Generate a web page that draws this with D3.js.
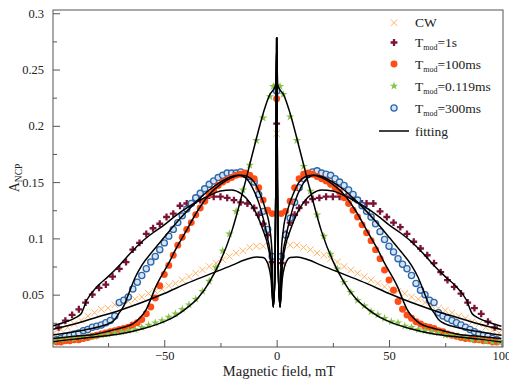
<!DOCTYPE html>
<html>
<head>
<meta charset="utf-8">
<script src="https://cdn.jsdelivr.net/npm/d3@7"></script>
<style>
  body { margin: 0; background: #fff; }
  svg text { font-family: "Liberation Serif", "Times New Roman", serif; fill: #222; }
</style>
</head>
<body>
<div id="chart"><svg width="509" height="380"></svg></div>
<script>
// ---- data: [field (mT), A_NCP] ----
const cwPoints = [[-99,0.016],[-96,0.019],[-93,0.021],[-90,0.024],[-87,0.027],[-84,0.031],[-81,0.034],[-78,0.037],[-75,0.038],[-72,0.041],[-69,0.042],[-66,0.044],[-63,0.046],[-60,0.048],[-57,0.051],[-54,0.053],[-51,0.055],[-48,0.058],[-45,0.060],[-42,0.063],[-39,0.066],[-36,0.069],[-33,0.072],[-30,0.075],[-27,0.078],[-24,0.081],[-21,0.084],[-18,0.087],[-15,0.089],[-12,0.092],[-9,0.093],[-6,0.093],[-3,0.077],[0,0.193],
  [3,0.078],[6,0.094],[9,0.094],[12,0.092],[15,0.090],[18,0.087],[21,0.085],[24,0.082],[27,0.079],[30,0.075],[33,0.072],[36,0.069],[39,0.066],[42,0.063],[45,0.060],[48,0.057],[51,0.055],[54,0.053],[57,0.051],[60,0.048],[63,0.046],[66,0.043],[69,0.040],[72,0.038],[75,0.036],[78,0.034],[81,0.031],[84,0.029],[87,0.026],[90,0.024],[93,0.021],[96,0.018],[99,0.016]];

const mod1sPoints = [[-97,0.021],[-94,0.027],[-91,0.032],[-88,0.037],[-85,0.043],[-82,0.050],[-79,0.056],[-76,0.059],[-73,0.066],[-70,0.073],[-67,0.079],[-64,0.090],[-61,0.096],[-58,0.104],[-55,0.109],[-52,0.113],[-49,0.119],[-46,0.122],[-43,0.129],[-40,0.131],[-37,0.132],[-34,0.134],[-31,0.136],[-28,0.137],[-25,0.137],[-22,0.136],[-19,0.134],[-16,0.132],[-13,0.131],[-10,0.127],[-8,0.121],[-6,0.113],[-4,0.103],[-2,0.079],[0,0.202],
  [2,0.078],[4,0.104],[6,0.114],[8,0.121],[10,0.127],[13,0.132],[16,0.135],[19,0.136],[22,0.137],[25,0.137],[28,0.137],[31,0.137],[34,0.136],[37,0.133],[40,0.131],[43,0.131],[46,0.124],[49,0.119],[52,0.114],[55,0.110],[58,0.104],[61,0.097],[64,0.091],[67,0.085],[70,0.078],[73,0.070],[76,0.063],[79,0.057],[82,0.051],[85,0.043],[88,0.038],[91,0.033],[94,0.026],[97,0.021]];

const mod100msPoints = [[-98,0.008],[-96,0.008],[-94,0.009],[-92,0.009],[-90,0.010],[-88,0.010],[-86,0.011],[-84,0.012],[-82,0.013],[-80,0.014],[-78,0.015],[-76,0.016],[-74,0.017],[-72,0.018],[-70,0.019],[-68,0.020],[-66,0.021],[-64,0.023],[-62,0.025],[-60,0.028],[-58,0.033],[-56,0.039],[-54,0.047],[-52,0.058],[-50,0.068],[-48,0.076],[-46,0.085],[-44,0.094],[-42,0.101],[-40,0.108],[-38,0.114],[-36,0.121],[-34,0.127],[-32,0.133],[-30,0.139],[-28,0.143],[-26,0.147],[-24,0.150],[-22,0.152],[-20,0.154],[-18,0.156],[-16,0.157],[-14,0.158],[-12,0.156],[-10,0.153],[-8,0.145],[-6,0.134],[-4,0.125],[-2,0.122],[0,0.224],
  [2,0.122],[4,0.124],[6,0.133],[8,0.145],[10,0.153],[12,0.157],[14,0.158],[16,0.157],[18,0.155],[20,0.153],[22,0.151],[24,0.148],[26,0.145],[28,0.141],[30,0.136],[32,0.131],[34,0.125],[36,0.119],[38,0.112],[40,0.105],[42,0.098],[44,0.090],[46,0.082],[48,0.072],[50,0.063],[52,0.054],[54,0.044],[56,0.037],[58,0.032],[60,0.029],[62,0.026],[64,0.024],[66,0.022],[68,0.021],[70,0.020],[72,0.018],[74,0.017],[76,0.015],[78,0.014],[80,0.013],[82,0.012],[84,0.011],[86,0.011],[88,0.010],[90,0.010],[92,0.009],[94,0.009],[96,0.008],[98,0.008]];

const mod0119msPoints = [[-99,0.009],[-96,0.010],[-93,0.011],[-90,0.011],[-87,0.012],[-84,0.013],[-81,0.013],[-78,0.014],[-75,0.015],[-72,0.016],[-69,0.017],[-66,0.018],[-63,0.019],[-60,0.021],[-57,0.023],[-54,0.025],[-51,0.027],[-48,0.030],[-45,0.033],[-42,0.037],[-39,0.041],[-36,0.046],[-33,0.053],[-30,0.062],[-27,0.074],[-24,0.089],[-21,0.104],[-18,0.124],[-15,0.143],[-12,0.165],[-9,0.187],[-6,0.207],[-3,0.226],[-1.5,0.235],[0,0.236],
  [1.5,0.235],[3,0.228],[6,0.208],[9,0.187],[12,0.164],[15,0.142],[18,0.121],[21,0.102],[24,0.086],[27,0.073],[30,0.061],[33,0.052],[36,0.045],[39,0.040],[42,0.035],[45,0.032],[48,0.029],[51,0.026],[54,0.025],[57,0.022],[60,0.021],[63,0.019],[66,0.018],[69,0.017],[72,0.016],[75,0.014],[78,0.014],[81,0.013],[84,0.012],[87,0.010],[90,0.010],[93,0.009],[96,0.008],[99,0.008]];

const mod300msPoints = [[-98,0.010],[-96,0.011],[-94,0.013],[-92,0.014],[-90,0.015],[-88,0.016],[-86,0.018],[-84,0.019],[-82,0.021],[-80,0.022],[-78,0.023],[-76,0.025],[-74,0.027],[-72,0.031],[-70,0.043],[-68,0.045],[-66,0.048],[-64,0.055],[-62,0.061],[-60,0.067],[-58,0.073],[-56,0.079],[-54,0.084],[-52,0.090],[-50,0.096],[-48,0.102],[-46,0.108],[-44,0.114],[-42,0.120],[-40,0.126],[-38,0.131],[-36,0.136],[-34,0.140],[-32,0.144],[-30,0.148],[-28,0.151],[-26,0.154],[-24,0.156],[-22,0.158],[-20,0.158],[-18,0.158],[-16,0.159],[-14,0.157],[-12,0.155],[-10,0.150],[-8,0.139],[-6,0.124],[-4,0.108],[-2,0.084],[0,0.231],
  [2,0.084],[4,0.103],[6,0.118],[8,0.132],[10,0.145],[12,0.153],[14,0.157],[16,0.159],[18,0.160],[20,0.158],[22,0.157],[24,0.156],[26,0.153],[28,0.150],[30,0.147],[32,0.143],[34,0.139],[36,0.134],[38,0.129],[40,0.124],[42,0.119],[44,0.113],[46,0.106],[48,0.099],[50,0.093],[52,0.088],[54,0.082],[56,0.077],[58,0.073],[60,0.067],[62,0.060],[64,0.054],[66,0.050],[68,0.045],[70,0.043],[72,0.034],[74,0.031],[76,0.029],[78,0.027],[80,0.025],[82,0.023],[84,0.021],[86,0.019],[88,0.017],[90,0.015],[92,0.014],[94,0.013],[96,0.011],[98,0.010]];

// fitting curves (black)
const cwFit = [[-100,0.019],[-90,0.024],[-80,0.030],[-70,0.036],[-60,0.043],[-50,0.051],[-40,0.060],[-30,0.068],[-20,0.076],[-14,0.081],[-9,0.0835],[-6,0.083],[-4.5,0.080],[-3.5,0.075],[-2.5,0.064],[-1.5,0.039],[-0.7,0.075],[-0.35,0.15],[0,0.278],
  [0.35,0.15],[0.7,0.075],[1.5,0.039],[2.5,0.064],[3.5,0.075],[4.5,0.080],[6,0.083],[9,0.0835],[14,0.081],[20,0.076],[30,0.068],[40,0.060],[50,0.051],[60,0.043],[70,0.036],[80,0.030],[90,0.024],[100,0.019]];
const mod1sFit = [[-100,0.022],[-95,0.025],[-90,0.029],[-87,0.033],[-84.5,0.045],[-80,0.057],[-75,0.066],[-70,0.076],[-65,0.087],[-60,0.097],[-55,0.105],[-50,0.112],[-45,0.120],[-40,0.127],[-35,0.133],[-30,0.138],[-25,0.142],[-20,0.143],[-16,0.140],[-12,0.132],[-9,0.122],[-6,0.107],[-4,0.094],[-2.5,0.075],[-1.5,0.039],[-0.7,0.075],[-0.35,0.15],[0,0.278],
  [0.35,0.15],[0.7,0.075],[1.5,0.039],[2.5,0.075],[4,0.094],[6,0.107],[9,0.122],[12,0.132],[16,0.140],[20,0.143],[25,0.142],[30,0.138],[35,0.133],[40,0.127],[45,0.120],[50,0.112],[55,0.105],[60,0.097],[65,0.087],[70,0.076],[75,0.066],[80,0.057],[84.5,0.045],[87,0.033],[90,0.029],[95,0.025],[100,0.022]];
const mod100msFit = [[-100,0.011],[-90,0.013],[-80,0.015],[-74,0.018],[-68,0.021],[-64,0.024],[-61,0.029],[-58,0.037],[-56,0.046],[-54,0.056],[-52,0.064],[-50,0.071],[-48,0.078],[-45,0.090],[-41,0.104],[-35,0.125],[-30,0.139],[-25,0.148],[-20,0.154],[-16,0.156],[-13,0.155],[-10,0.150],[-7.5,0.140],[-5,0.126],[-3,0.108],[-2,0.085],[-1.5,0.039],[-0.7,0.075],[-0.35,0.15],[0,0.278],
  [0.35,0.15],[0.7,0.075],[1.5,0.039],[2,0.085],[3,0.108],[5,0.126],[7.5,0.140],[10,0.150],[13,0.155],[16,0.156],[20,0.154],[25,0.148],[30,0.139],[35,0.125],[41,0.104],[45,0.090],[48,0.078],[50,0.071],[52,0.064],[54,0.056],[56,0.046],[58,0.037],[61,0.029],[64,0.024],[68,0.021],[74,0.018],[80,0.015],[90,0.013],[100,0.011]];
const mod0119msFit = [[-100,0.008],[-90,0.0105],[-80,0.0125],[-70,0.015],[-60,0.0195],[-50,0.026],[-45,0.031],[-40,0.038],[-35,0.047],[-30,0.061],[-25,0.080],[-20,0.106],[-15,0.142],[-10,0.181],[-6,0.211],[-3,0.228],[-1.5,0.232],[-0.5,0.236],[-0.2,0.255],[0,0.278],
  [0.2,0.255],[0.5,0.236],[1.5,0.232],[3,0.228],[6,0.211],[10,0.181],[15,0.142],[20,0.106],[25,0.080],[30,0.061],[35,0.047],[40,0.038],[45,0.031],[50,0.026],[60,0.0195],[70,0.015],[80,0.0125],[90,0.0105],[100,0.008]];
const mod300msFit = [[-100,0.014],[-90,0.017],[-80,0.021],[-75,0.024],[-72,0.028],[-70,0.034],[-68,0.040],[-66,0.050],[-63,0.065],[-60,0.076],[-55,0.089],[-50,0.101],[-45,0.113],[-40,0.124],[-35,0.134],[-30,0.143],[-25,0.150],[-20,0.155],[-17,0.156],[-14,0.154],[-11,0.146],[-8,0.132],[-6,0.118],[-4,0.100],[-2.5,0.080],[-1.5,0.039],[-0.7,0.075],[-0.35,0.15],[0,0.278],
  [0.35,0.15],[0.7,0.075],[1.5,0.039],[2.5,0.080],[4,0.100],[6,0.118],[8,0.132],[11,0.146],[14,0.154],[17,0.156],[20,0.155],[25,0.150],[30,0.143],[35,0.134],[40,0.124],[45,0.113],[50,0.101],[55,0.089],[60,0.076],[63,0.065],[66,0.050],[68,0.040],[70,0.034],[72,0.028],[75,0.024],[80,0.021],[90,0.017],[100,0.014]];

const fieldTicks = [-50, 0, 50, 100];
const fieldMinorTicks = [-75, -25, 25, 75];
const ancpTicks = [0.05, 0.1, 0.15, 0.2, 0.25, 0.3];
const ancpMinorTicks = [0.025, 0.075, 0.125, 0.175, 0.225, 0.275];

const svg = d3.select("#chart svg");
const plotLeft = 53, plotRight = 503, plotTop = 10, plotBottom = 347;

const x = d3.scaleLinear().domain([-99.5, 100.7]).range([plotLeft, plotRight]);
const y = d3.scaleLinear().domain([0.0035, 0.3029]).range([plotBottom, plotTop]);

svg.append("defs").append("clipPath").attr("id", "clip")
    .append("rect").attr("x", plotLeft).attr("y", plotTop)
    .attr("width", plotRight - plotLeft).attr("height", plotBottom - plotTop);
const plot = svg.append("g").attr("clip-path", "url(#clip)");

// marker styles
const series = [
    {name: "cw", pts: cwPoints, shape: d3.symbolTimes, size: 30, fill: "none", stroke: "#FFB366", sw: 1},
    {name: "1s", pts: mod1sPoints, shape: d3.symbolCross, size: 26, fill: "#7B1434", stroke: "none", sw: 0},
    {name: "300ms", pts: mod300msPoints, shape: d3.symbolCircle, size: 30, fill: "#d6e4f2", stroke: "#2C66AC", sw: 1.3},
    {name: "100ms", pts: mod100msPoints, shape: d3.symbolCircle, size: 38, fill: "#FF4D17", stroke: "none", sw: 0},
    {name: "0119ms", pts: mod0119msPoints, shape: d3.symbolStar, size: 22, fill: "#88C34C", stroke: "none", sw: 0}
];

series.forEach(s => {
    plot.append("g").selectAll("path")
        .data(s.pts)
        .join("path")
        .attr("transform", d => `translate(${x(d[0])},${y(d[1])})`)
        .attr("d", d3.symbol().type(s.shape).size(s.size))
        .attr("fill", s.fill)
        .attr("stroke", s.stroke)
        .attr("stroke-width", s.sw);
});

// fitting lines
const line = d3.line().x(d => x(d[0])).y(d => y(d[1])).curve(d3.curveMonotoneX);
[cwFit, mod1sFit, mod100msFit, mod0119msFit, mod300msFit].forEach(f => {
    plot.append("path")
        .attr("d", line(f))
        .attr("fill", "none")
        .attr("stroke", "#000")
        .attr("stroke-width", 1.5);
});

// axes
svg.append("g").attr("transform", `translate(${plotLeft},0)`)
    .call(d3.axisLeft(y).tickValues(ancpTicks).tickSize(-7).tickPadding(9).tickFormat(d3.format("")));
svg.append("g").attr("transform", `translate(${plotLeft},0)`)
    .call(d3.axisLeft(y).tickValues(ancpMinorTicks).tickSize(-4).tickFormat(""));
svg.append("g").attr("transform", `translate(0,${plotBottom})`)
    .call(d3.axisBottom(x).tickValues(fieldTicks).tickSize(-7).tickPadding(4));
svg.append("g").attr("transform", `translate(0,${plotBottom})`)
    .call(d3.axisBottom(x).tickValues(fieldMinorTicks).tickSize(-4).tickFormat(""));

svg.selectAll(".domain").remove();
svg.selectAll(".tick line").attr("stroke", "#555");
svg.selectAll(".tick text").attr("font-size", "12.5px")
    .attr("font-family", "'Liberation Serif', 'Times New Roman', serif").attr("fill", "#333");

svg.append("rect")
    .attr("x", plotLeft).attr("y", plotTop)
    .attr("width", plotRight - plotLeft).attr("height", plotBottom - plotTop)
    .attr("fill", "none").attr("stroke", "#555").attr("stroke-width", 1);

// axis titles
svg.append("text")
    .attr("x", 279).attr("y", 376)
    .attr("text-anchor", "middle")
    .attr("font-size", "14.5px")
    .text("Magnetic field, mT");

const yTitle = svg.append("text")
    .attr("transform", "translate(19,178) rotate(-90)")
    .attr("text-anchor", "middle")
    .attr("font-size", "14px");
yTitle.append("tspan").text("A");
yTitle.append("tspan").attr("font-size", "9.5px").attr("dy", 3).text("NCP");

// legend
const legendRows = [
    {s: series[0], label: "CW", sub: null},
    {s: series[1], label: "T", sub: "mod", rest: "=1s"},
    {s: series[3], label: "T", sub: "mod", rest: "=100ms"},
    {s: series[4], label: "T", sub: "mod", rest: "=0.119ms"},
    {s: series[2], label: "T", sub: "mod", rest: "=300ms"}
];
const rowY = [22.7, 42.5, 64, 86, 108];
legendRows.forEach((r, i) => {
    svg.append("path")
        .attr("transform", `translate(394,${rowY[i]})`)
        .attr("d", d3.symbol().type(r.s.shape).size(r.s.size))
        .attr("fill", r.s.fill).attr("stroke", r.s.stroke).attr("stroke-width", r.s.sw);
    const t = svg.append("text")
        .attr("x", 415).attr("y", rowY[i]).attr("dy", "0.35em")
        .attr("font-size", "13.5px");
    t.append("tspan").text(r.label);
    if (r.sub) {
        t.append("tspan").attr("font-size", "8px").attr("dy", 3).text(r.sub);
        t.append("tspan").attr("dy", -3).text(r.rest);
    }
});
svg.append("line")
    .attr("x1", 379).attr("x2", 409).attr("y1", 131).attr("y2", 131)
    .attr("stroke", "#000").attr("stroke-width", 1.5);
svg.append("text")
    .attr("x", 415).attr("y", 131).attr("dy", "0.35em")
    .attr("font-size", "13.5px")
    .text("fitting");
</script>
</body>
</html>
